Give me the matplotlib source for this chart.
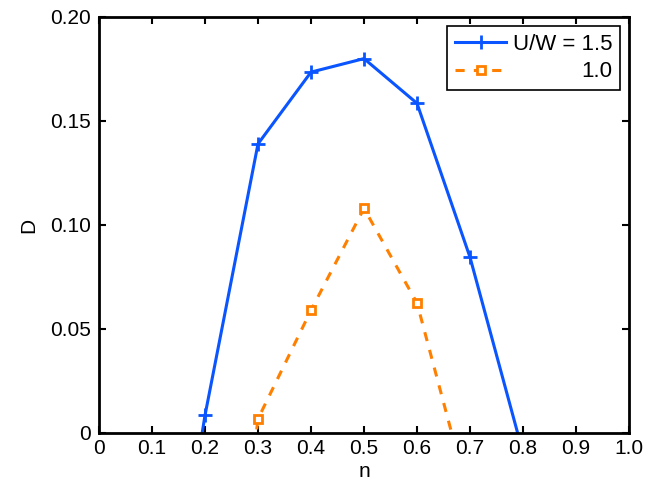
import numpy as np
import matplotlib
matplotlib.use("Agg")
import matplotlib.pyplot as plt

plt.rcParams['font.family'] = ['Liberation Sans', 'DejaVu Sans']

# data (end points fall below zero and get clipped)
n_15 = [0.1, 0.2, 0.3, 0.4, 0.5, 0.6, 0.7, 0.8]
d_15 = [-0.15, 0.0085, 0.139, 0.1735, 0.180, 0.1585, 0.0845, -0.0095]
n_10 = [0.2, 0.3, 0.4, 0.5, 0.6, 0.7]
d_10 = [-0.20, 0.0068, 0.059, 0.108, 0.0625, -0.033]

blue = '#0a55ff'
orange = '#ff8000'

xticks = np.round(np.arange(0, 1.01, 0.1), 1)
xticklabels = ['0'] + ['%.1f' % v for v in xticks[1:]]
yticks = [0, 0.05, 0.10, 0.15, 0.20]
yticklabels = ['0', '0.05', '0.10', '0.15', '0.20']

fs = 15

fig = plt.figure(figsize=(6.5, 4.83), dpi=100)
ax = fig.add_axes([99 / 650, 50 / 483, 530 / 650, 416 / 483])

ax.plot(n_15, d_15, '-', color=blue, lw=2.2, marker='+', ms=10, mew=2,
        label='U/W = 1.5')
ax.plot(n_10, d_10, '--', color=orange, lw=2.2, marker='s', ms=6, mew=2,
        mfc='white', mec=orange, dashes=(3, 3), label='1.0')

ax.set_xlim(0, 1.0)
ax.set_ylim(0, 0.20)
ax.set_xticks(xticks)
ax.set_xticklabels(xticklabels)
ax.set_yticks(yticks)
ax.set_yticklabels(yticklabels)
ax.tick_params(direction='in', length=5, width=1.5, top=True, right=True,
               labelsize=fs)
ax.tick_params(axis='x', pad=4)
ax.tick_params(axis='y', pad=6)
for s in ax.spines.values():
    s.set_linewidth(2)

ax.set_xlabel('n', fontsize=fs, labelpad=3)
ax.set_ylabel('D', fontsize=fs, labelpad=8)

leg = ax.legend(loc='upper right', fontsize=16, frameon=True, fancybox=False,
                edgecolor='black', framealpha=1, handlelength=2.3,
                borderaxespad=0.4, borderpad=0.35, labelspacing=0.3,
                handletextpad=0.3)
leg.get_frame().set_linewidth(1.2)

# right-align legend labels
fig.canvas.draw()
renderer = fig.canvas.get_renderer()
widths = [t.get_window_extent(renderer).width for t in leg.get_texts()]
shift = max(widths)
for t, w in zip(leg.get_texts(), widths):
    t.set_position((shift - w, 0))

fig.savefig('out.png', dpi=100)
